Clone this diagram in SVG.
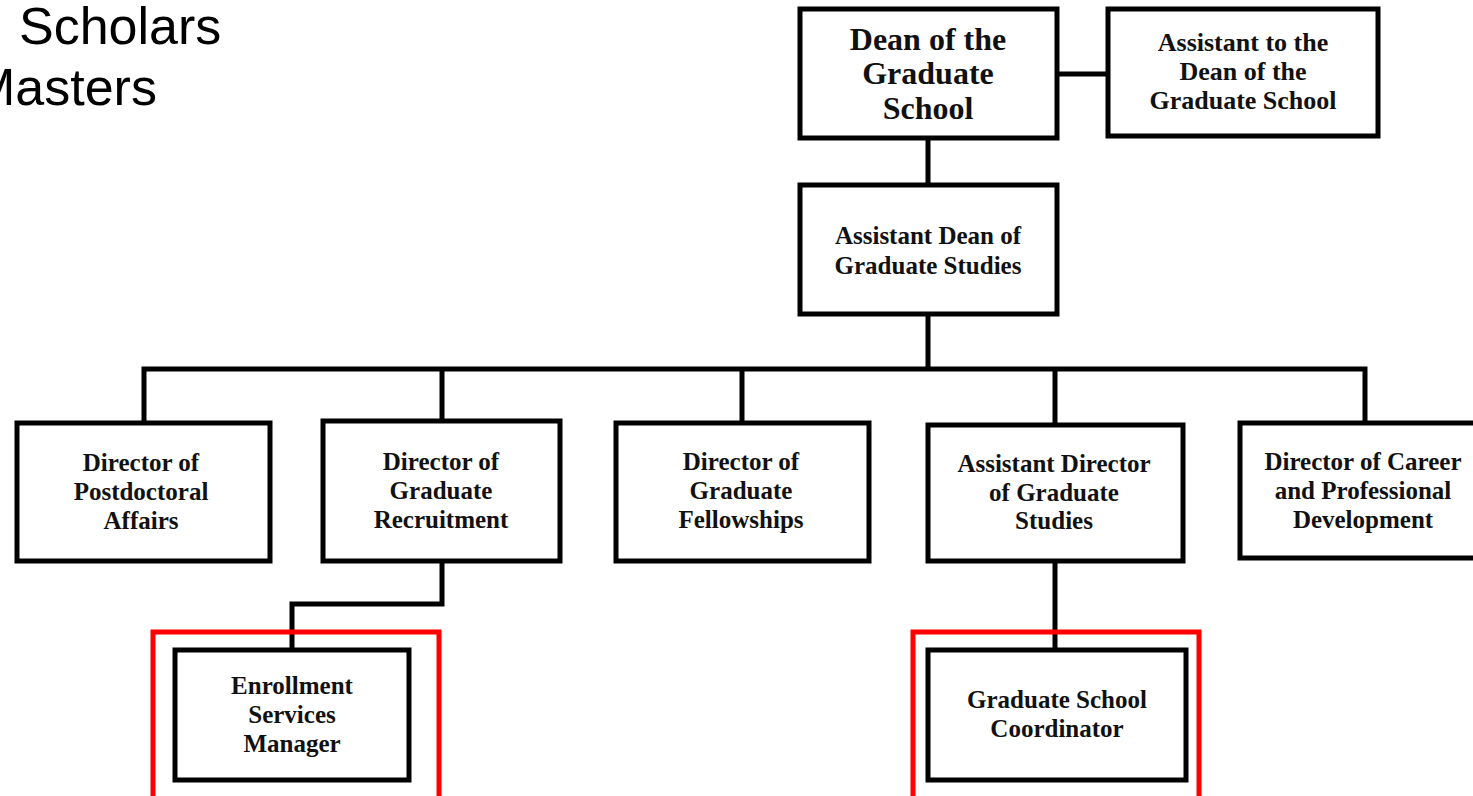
<svg xmlns="http://www.w3.org/2000/svg" width="1473" height="796" viewBox="0 0 1473 796">
<style>
.box{fill:#fff;stroke:#000;stroke-width:5}
.hl{fill:none;stroke:#ff0000;stroke-width:5}
.con{fill:none;stroke:#000;stroke-width:5}
.t{font-family:"Liberation Serif",serif;font-weight:bold;font-size:25px;fill:#111;text-anchor:middle}
.big{font-size:32px}
.mid{font-size:26px}
.hdr{font-family:"Liberation Sans",Arial,sans-serif;font-size:52px;fill:#000}
</style>
<rect width="1473" height="796" fill="#fff"/>
<text class="hdr" x="19" y="44">Scholars</text>
<text class="hdr" x="-28" y="105">Masters</text>
<g id="connectors">
<line class="con" x1="1057" y1="74" x2="1108" y2="74"/>
<line class="con" x1="928" y1="138" x2="928" y2="185"/>
<line class="con" x1="928" y1="314" x2="928" y2="369"/>
<polyline class="con" points="144,423 144,369 1365,369 1365,423"/>
<line class="con" x1="442" y1="369" x2="442" y2="421"/>
<line class="con" x1="742" y1="369" x2="742" y2="423"/>
<line class="con" x1="1055" y1="369" x2="1055" y2="425"/>
<polyline class="con" points="442,561 442,604 292,604 292,650"/>
<line class="con" x1="1055" y1="561" x2="1055" y2="650"/>
</g>
<g id="dean"><rect class="box" x="800" y="9" width="257" height="129"/>
<text class="t big" x="928" y="50">Dean of the</text><text class="t big" x="928" y="84">Graduate</text><text class="t big" x="928" y="119">School</text></g>
<g id="asst-to-dean"><rect class="box" x="1108" y="9" width="270" height="127"/>
<text class="t mid" x="1243" y="51">Assistant to the</text><text class="t mid" x="1243" y="80">Dean of the</text><text class="t mid" x="1243" y="109">Graduate School</text></g>
<g id="asst-dean"><rect class="box" x="800" y="185" width="257" height="129"/>
<text class="t" x="928" y="244">Assistant Dean of</text><text class="t" x="928" y="274">Graduate Studies</text></g>
<g id="postdoc"><rect class="box" x="17" y="423" width="253" height="138"/>
<text class="t" x="141" y="471">Director of</text><text class="t" x="141" y="500">Postdoctoral</text><text class="t" x="141" y="529">Affairs</text></g>
<g id="recruitment"><rect class="box" x="323" y="421" width="237" height="140"/>
<text class="t" x="441" y="470">Director of</text><text class="t" x="441" y="499">Graduate</text><text class="t" x="441" y="528">Recruitment</text></g>
<g id="fellowships"><rect class="box" x="616" y="423" width="253" height="138"/>
<text class="t" x="741" y="470">Director of</text><text class="t" x="741" y="499">Graduate</text><text class="t" x="741" y="528">Fellowships</text></g>
<g id="asst-director"><rect class="box" x="928" y="425" width="255" height="136"/>
<text class="t" x="1054" y="472">Assistant Director</text><text class="t" x="1054" y="501">of Graduate</text><text class="t" x="1054" y="529">Studies</text></g>
<g id="career"><rect class="box" x="1240" y="423" width="240" height="135"/>
<text class="t" x="1363" y="470">Director of Career</text><text class="t" x="1363" y="499">and Professional</text><text class="t" x="1363" y="528">Development</text></g>
<g id="enrollment"><rect class="hl" x="153" y="632" width="286" height="170"/>
<rect class="box" x="175" y="650" width="234" height="130"/>
<text class="t" x="292" y="694">Enrollment</text><text class="t" x="292" y="723">Services</text><text class="t" x="292" y="752">Manager</text></g>
<g id="coordinator"><rect class="hl" x="913" y="632" width="286" height="170"/>
<rect class="box" x="928" y="650" width="258" height="130"/>
<text class="t" x="1057" y="708">Graduate School</text><text class="t" x="1057" y="737">Coordinator</text></g>
</svg>
